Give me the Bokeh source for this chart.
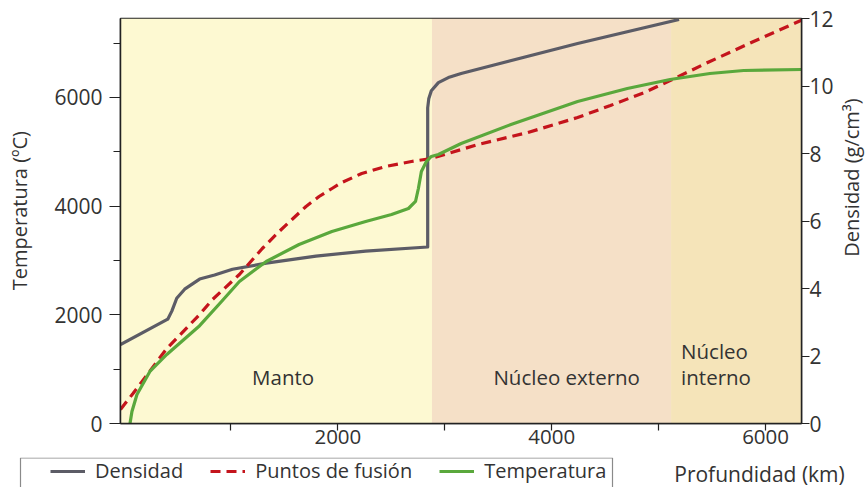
from bokeh.plotting import figure
from bokeh.models import Range1d, LinearAxis, FixedTicker, Legend, LegendItem
from bokeh.layouts import column, row
from bokeh.embed import file_html
from bokeh.resources import INLINE
from bokeh.core.properties import value
import math

FONT = "Open Sans"
TXT = "#333333"
NB = "\u00a0"

# ---------------- data ----------------
layer_names = ["Manto", "Núcleo externo", "Núcleo interno"]
layer_start_km = [-33, 2880, 5116]
layer_end_km = [2880, 5116, 6336]
layer_colors = ["#fdf9d2", "#f5e0c7", "#f5e4b9"]

density_km = [-33, 409, 447, 493, 567, 707, 847, 1014, 1330, 1795, 2260, 2840,
              2840, 2850, 2874, 2940, 3033, 3153, 4242, 5191]
density_gcm3 = [2.34, 3.09, 3.33, 3.71, 3.98, 4.28, 4.40, 4.57, 4.75, 4.96, 5.11, 5.23,
                9.35, 9.62, 9.86, 10.10, 10.25, 10.37, 11.26, 11.97]

temp_km = [56, 74, 121, 242, 400, 707, 912, 1079, 1330, 1637, 1944, 2260, 2502, 2660,
           2726, 2753, 2781, 2828, 2874, 2940, 3153, 3619, 4242, 4707, 5107, 5479,
           5795, 6336]
temp_c = [0, 221, 534, 957, 1270, 1800, 2245, 2613, 2981, 3294, 3533, 3717, 3846, 3956,
          4085, 4324, 4637, 4821, 4913, 4950, 5152, 5502, 5925, 6164, 6330, 6440,
          6495, 6514]

melt_km = [-33, 84, 400, 707, 828, 1079, 1293, 1451, 1581, 1702, 1824, 1945, 2037, 2223,
           2447, 2688, 2874, 3312, 3777, 4242, 4549, 4865, 5107, 5479, 5888, 6336]
melt_c = [258, 552, 1380, 2006, 2282, 2742, 3220, 3533, 3772, 3993, 4177, 4324, 4434,
          4600, 4729, 4821, 4876, 5134, 5354, 5630, 5851, 6090, 6311, 6661, 7029, 7420]

temp_ticks = [0, 2000, 4000, 6000]
temp_minor = [1000, 3000, 5000, 7000]
dens_ticks = [0, 2, 4, 6, 8, 10, 12]
depth_ticks = [2000, 4000, 6000]
depth_minor = [1000, 3000, 5000]

series_names = ["Densidad", "Puntos de fusión", "Temperatura"]
series_colors = ["#5c5c66", "#c4141c", "#5aa83c"]

# ---------------- main figure ----------------
p = figure(width=836, height=457, output_backend="svg", toolbar_location=None,
           x_range=Range1d(-33, 6336), y_range=Range1d(0, 7452),
           min_border_left=120, min_border_right=33, min_border_top=18,
           min_border_bottom=34)
p.frame_align = False
p.xgrid.visible = False
p.ygrid.visible = False
p.outline_line_color = "#222222"
p.outline_line_width = 1.5
p.background_fill_color = "white"
p.border_fill_color = "white"

p.quad(left=layer_start_km, right=layer_end_km, bottom=0, top=7452,
       fill_color=layer_colors, line_color=None)

p.extra_y_ranges = {"dens": Range1d(0, 12)}
rax = LinearAxis(y_range_name="dens", ticker=FixedTicker(ticks=dens_ticks))
p.add_layout(rax, "right")

for ax in [p.xaxis[0], p.yaxis[0], rax]:
    ax.axis_line_color = "#222222"
    ax.axis_line_width = 1.5
    ax.major_tick_line_color = "#222222"
    ax.major_tick_line_width = 1.2
    ax.minor_tick_line_color = "#222222"
    ax.minor_tick_line_width = 1.2
    ax.major_tick_in = 0
    ax.minor_tick_in = 0
    ax.major_label_text_font = FONT
    ax.major_label_text_font_size = "21px"
    ax.major_label_text_color = TXT
    ax.axis_label_text_font = FONT
    ax.axis_label_text_font_size = "20px"
    ax.axis_label_text_font_style = "normal"
    ax.axis_label_text_color = TXT

yax = p.yaxis[0]
yax.ticker = FixedTicker(ticks=temp_ticks, minor_ticks=temp_minor)
yax.major_tick_out = 11
yax.minor_tick_out = 7
yax.major_label_standoff = 7
yax.axis_label = NB * 4 + "Temperatura (ºC)"
yax.axis_label_standoff = 18

rax.major_tick_out = 8
rax.minor_tick_out = 0
rax.major_label_standoff = 0

xax = p.xaxis[0]
xax.ticker = FixedTicker(ticks=depth_ticks, minor_ticks=depth_minor)
xax.major_tick_out = 7
xax.minor_tick_out = 7
xax.major_label_standoff = -1
xax.major_label_text_font_size = "20.5px"

r_d = p.line(density_km, density_gcm3, y_range_name="dens", line_color=series_colors[0],
             line_width=3.2, line_join="round")
r_m = p.line(melt_km, melt_c, line_color=series_colors[1], line_width=3.2,
             line_dash="10 6")
r_t = p.line(temp_km, temp_c, line_color=series_colors[2], line_width=3.2,
             line_join="round")

p.text(x=[1488], y=[602], text=[layer_names[0]], text_align="center",
       text_font=value(FONT), text_font_size="20.5px", text_color=TXT)
p.text(x=[4140], y=[602], text=[layer_names[1]], text_align="center",
       text_font=value(FONT), text_font_size="20.5px", text_color=TXT)
p.text(x=[5210, 5210], y=[1080, 602], text=layer_names[2].split(" "), text_align="left",
       text_font=value(FONT), text_font_size="20.5px", text_color=TXT)

# ---------------- right strip: density axis title ----------------
p3 = figure(width=29, height=457, output_backend="svg", toolbar_location=None,
            x_range=Range1d(0, 29), y_range=Range1d(457, 0),
            x_axis_type=None, y_axis_type=None,
            min_border_left=0, min_border_right=0, min_border_top=0, min_border_bottom=0)
p3.frame_align = False
p3.outline_line_color = None
p3.background_fill_color = "white"
p3.border_fill_color = "white"
p3.text(x=[15], y=[177], text=["Densidad (g/cm³)"], angle=math.pi / 2,
        text_align="center", text_baseline="middle", text_font=value(FONT),
        text_font_size="20px", text_color=TXT)

# ---------------- bottom strip: legend + depth title ----------------
p2 = figure(width=865, height=30, output_backend="svg", toolbar_location=None,
            x_range=Range1d(0, 865), y_range=Range1d(30, 0),
            x_axis_type=None, y_axis_type=None,
            min_border_left=0, min_border_right=0, min_border_top=0, min_border_bottom=0)
p2.frame_align = False
p2.outline_line_color = None
p2.background_fill_color = "white"
p2.border_fill_color = "white"

p2.quad(left=[20], right=[612], top=[0.5], bottom=[45], fill_color="white",
        line_color="#8a8a8a", line_width=1.2)
# legend proxies (drawn outside the visible strip)
g_d = p2.line(x=[-50, -40], y=[-50, -50], line_color=series_colors[0], line_width=3.2)
g_m = p2.line(x=[-50, -40], y=[-50, -50], line_color=series_colors[1], line_width=3.2,
              line_dash="10 6")
g_t = p2.line(x=[-50, -40], y=[-50, -50], line_color=series_colors[2], line_width=3.2)

legend = Legend(items=[LegendItem(label=series_names[0], renderers=[g_d]),
                       LegendItem(label=series_names[1], renderers=[g_m]),
                       LegendItem(label=series_names[2], renderers=[g_t])],
                orientation="horizontal", location=(46, -1), margin=0, padding=4,
                spacing=27, glyph_width=35, label_standoff=10,
                label_text_font=FONT, label_text_font_size="20px",
                label_text_color=TXT, border_line_alpha=0, background_fill_alpha=0)
p2.add_layout(legend)

p2.text(x=[759], y=[16], text=["Profundidad (km)"], text_align="center",
        text_baseline="alphabetic", text_font=value(FONT), text_font_size="21px",
        text_color=TXT)

layout = column(row(p, p3), p2)
open("out.html", "w").write(file_html(layout, INLINE))
